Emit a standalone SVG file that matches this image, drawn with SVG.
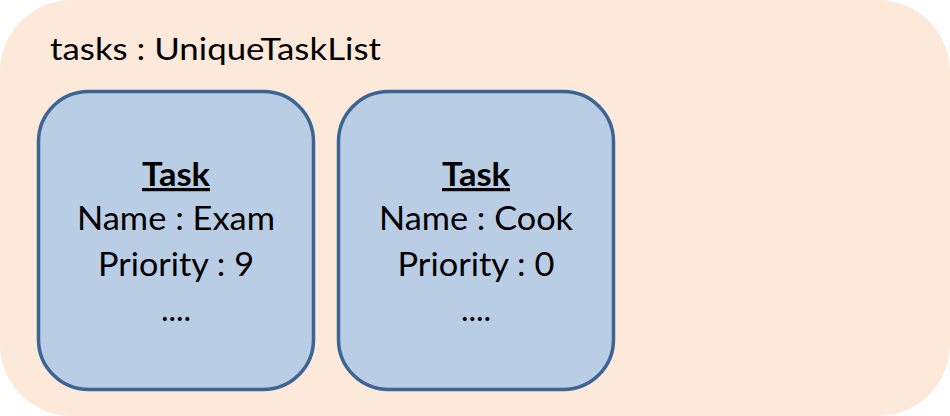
<svg xmlns="http://www.w3.org/2000/svg" width="950" height="416" viewBox="0 0 950 416">
<style>
.t{font-family:Lato,"Liberation Sans",sans-serif;font-size:32px;fill:#000;text-anchor:middle}
.h{font-weight:bold;text-decoration:underline}
.box{fill:#B9CDE5;stroke:#3C6494;stroke-width:3.5}
</style>
<g id="container">
<rect x="0" y="0" width="950" height="416" rx="72" ry="72" fill="#FDE9D9"/>
<text x="50" y="60" font-family="Lato,'Liberation Sans',sans-serif" font-size="31" textLength="331" lengthAdjust="spacingAndGlyphs">tasks : UniqueTaskList</text>
</g>
<g id="task1">
<rect class="box" x="38.5" y="91.5" width="275" height="298" rx="50" ry="50"/>
<text class="t h" x="176" y="186" textLength="68" lengthAdjust="spacingAndGlyphs">Task</text>
<text class="t" x="176" y="230" textLength="198" lengthAdjust="spacingAndGlyphs">Name : Exam</text>
<text class="t" x="176" y="276" textLength="156" lengthAdjust="spacingAndGlyphs">Priority : 9</text>
<text class="t" x="176" y="321">....</text>
</g>
<g id="task2">
<rect class="box" x="338.5" y="91.5" width="275" height="298" rx="50" ry="50"/>
<text class="t h" x="476" y="186" textLength="68" lengthAdjust="spacingAndGlyphs">Task</text>
<text class="t" x="476" y="230" textLength="194" lengthAdjust="spacingAndGlyphs">Name : Cook</text>
<text class="t" x="476" y="276" textLength="157" lengthAdjust="spacingAndGlyphs">Priority : 0</text>
<text class="t" x="476" y="321">....</text>
</g>
<g id="connectors"/>
</svg>
